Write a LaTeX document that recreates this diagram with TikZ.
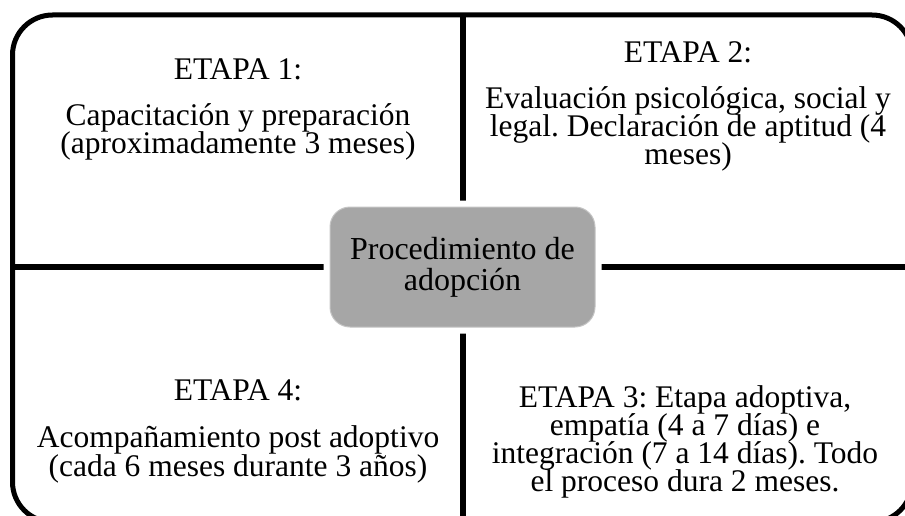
\documentclass[tikz,border=0pt]{standalone}
\usepackage{fontspec}
\setmainfont{Liberation Serif}
\frenchspacing
\definecolor{boxgray}{HTML}{A6A6A6}
\definecolor{rimgray}{HTML}{C4C4C4}
\newcommand{\quadfont}{\fontsize{31.5}{28}\selectfont\lineskiplimit=-60pt\frenchspacing}
\newcommand{\quadfontb}{\fontsize{31.5}{29}\selectfont\lineskiplimit=-60pt\frenchspacing}
\newcommand{\boxfont}{\fontsize{32}{31}\selectfont\lineskiplimit=-60pt\frenchspacing}
\tikzset{
  frameline/.style={line width=5pt, rounded corners=40pt},
  divline/.style={line width=5.5pt},
  quadtext/.style={inner sep=0pt, align=center, anchor=north, font=\quadfont},
  centerbox/.style={fill=boxgray, draw=rimgray, line width=1pt,
    rounded corners=20pt, minimum width=265pt, minimum height=120pt,
    inner sep=0pt, align=center, font=\boxfont,
    preaction={draw=white, line width=13pt}}
}
\begin{document}
\begin{tikzpicture}[x=1pt, y=-1pt]
  \useasboundingbox (0,0) rectangle (905,516);
  \clip (0,0) rectangle (905,516);
  % outer frame
  \draw[frameline] (12.5,15) rectangle (912,522);
  % divider end points
  \coordinate (topend) at (463,15);
  \coordinate (bottomend) at (463,522);
  \coordinate (leftend) at (12.5,267);
  \coordinate (rightend) at (912,267);
  \draw[divline] (topend) -- (bottomend);
  \draw[divline] (leftend) -- (rightend);
  % center box
  \node[centerbox] (center) at (462.5,267) {Procedimiento de\\adopción};
  % quadrants
  \node[quadtext] (q1) at (238,58.5)
    {ETAPA 1:\\[18pt]Capacitación y preparación\\(aproximadamente 3 meses)};
  \node[quadtext] (q2) at (688,41.4)
    {ETAPA 2:\\[18pt]Evaluación psicológica, social y\\legal. Declaración de aptitud (4\\meses)};
  \node[quadtext, font=\quadfontb] (q4) at (238,379.4)
    {ETAPA 4:\\[18pt]Acompañamiento post adoptivo\\(cada 6 meses durante 3 años)};
  \node[quadtext] (q3) at (685,385.5)
    {ETAPA 3: Etapa adoptiva,\\empatía (4 a 7 días) e\\integración (7 a 14 días). Todo\\el proceso dura 2 meses.};
\end{tikzpicture}
\end{document}
